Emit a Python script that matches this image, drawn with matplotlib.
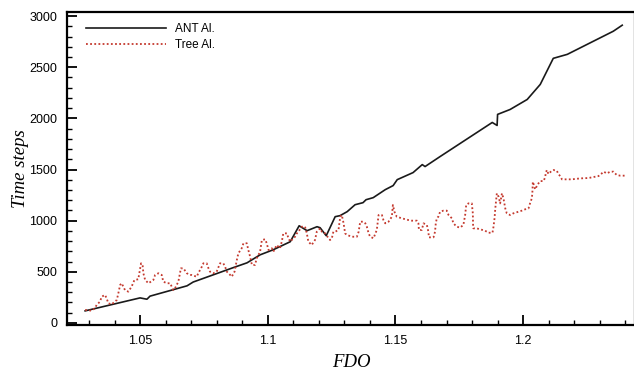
import matplotlib
matplotlib.use("Agg")
import matplotlib.pyplot as plt
from matplotlib.ticker import MultipleLocator

# ANT algorithm curve
ant_x = [1.0285, 1.0500, 1.0527, 1.0539, 1.0684, 1.0708, 1.0864, 1.0919, 1.0970,
         1.1021, 1.1088, 1.1123, 1.1154, 1.1193, 1.1205, 1.1229, 1.1264, 1.1283,
         1.1311, 1.1342, 1.1373, 1.1385, 1.1413, 1.1460, 1.1491, 1.1507, 1.1569,
         1.1605, 1.1616, 1.1675, 1.1879, 1.1898, 1.1900, 1.1949, 1.2016, 1.2067,
         1.2118, 1.2173, 1.2251, 1.2353, 1.2388]
ant_y = [118, 245, 232, 262, 363, 400, 540, 588, 666,
         715, 794, 950, 902, 941, 931, 853, 1039, 1049,
         1088, 1156, 1176, 1205, 1225, 1303, 1343, 1401, 1470,
         1548, 1529, 1627, 1960, 1931, 2039, 2087, 2185, 2332,
         2587, 2626, 2724, 2852, 2911]

# Tree algorithm curve
tree_x = [1.0285, 1.0311, 1.0324, 1.0330, 1.0343, 1.0350, 1.0363, 1.0369, 1.0376,
          1.0389, 1.0409, 1.0415, 1.0422, 1.0428, 1.0441, 1.0454, 1.0467, 1.0478,
          1.0493, 1.0504, 1.0510, 1.0513, 1.0520, 1.0533, 1.0552, 1.0559, 1.0572,
          1.0585, 1.0591, 1.0605, 1.0618, 1.0630, 1.0637, 1.0650, 1.0660, 1.0670,
          1.0683, 1.0696, 1.0702, 1.0722, 1.0728, 1.0742, 1.0748, 1.0761, 1.0768,
          1.0774, 1.0787, 1.0800, 1.0813, 1.0826, 1.0833, 1.0840, 1.0853, 1.0859,
          1.0870, 1.0879, 1.0885, 1.0898, 1.0905, 1.0918, 1.0924, 1.0931, 1.0938,
          1.0950, 1.0957, 1.0970, 1.0977, 1.0990, 1.0996, 1.1003, 1.1016, 1.1022,
          1.1035, 1.1048, 1.1055, 1.1061, 1.1075, 1.1081, 1.1088, 1.1094, 1.1107,
          1.1114, 1.1120, 1.1133, 1.1146, 1.1153, 1.1159, 1.1172, 1.1185, 1.1192,
          1.1205, 1.1212, 1.1225, 1.1238, 1.1244, 1.1251, 1.1257, 1.1264, 1.1277,
          1.1284, 1.1290, 1.1297, 1.1303, 1.1310, 1.1330, 1.1349, 1.1356, 1.1362,
          1.1375, 1.1382, 1.1388, 1.1395, 1.1401, 1.1414, 1.1427, 1.1434, 1.1447,
          1.1453, 1.1460, 1.1473, 1.1486, 1.1490, 1.1496, 1.1505, 1.1525, 1.1551,
          1.1564, 1.1584, 1.1590, 1.1592, 1.1603, 1.1610, 1.1623, 1.1629, 1.1631,
          1.1649, 1.1655, 1.1658, 1.1662, 1.1668, 1.1675, 1.1688, 1.1701, 1.1708,
          1.1721, 1.1727, 1.1740, 1.1753, 1.1766, 1.1773, 1.1777, 1.1786, 1.1799,
          1.1803, 1.1804, 1.1805, 1.1818, 1.1832, 1.1851, 1.1864, 1.1880, 1.1884,
          1.1888, 1.1891, 1.1897, 1.1904, 1.1910, 1.1917, 1.1923, 1.1930, 1.1936,
          1.1949, 1.1962, 1.1982, 1.1995, 1.2008, 1.2021, 1.2027, 1.2034, 1.2036,
          1.2037, 1.2038, 1.2047, 1.2057, 1.2067, 1.2080, 1.2086, 1.2089, 1.2093,
          1.2099, 1.2112, 1.2119, 1.2132, 1.2138, 1.2145, 1.2152, 1.2165, 1.2191,
          1.2211, 1.2230, 1.2256, 1.2282, 1.2295, 1.2308, 1.2315, 1.2328, 1.2341,
          1.2354, 1.2360, 1.2367, 1.2380, 1.2400]
tree_y = [127, 120, 147, 176, 208, 257, 274, 241, 192,
          182, 225, 290, 371, 388, 322, 306, 355, 420,
          427, 583, 567, 486, 420, 388, 420, 469, 486,
          469, 404, 388, 388, 322, 339, 404, 534, 534,
          486, 469, 469, 452, 486, 550, 583, 583, 534,
          501, 486, 501, 583, 583, 550, 501, 469, 452,
          501, 616, 681, 730, 779, 779, 713, 648, 567,
          567, 632, 697, 811, 818, 779, 713, 730, 697,
          762, 730, 795, 876, 876, 828, 795, 811, 843,
          876, 892, 941, 941, 876, 795, 762, 811, 892,
          925, 892, 876, 828, 811, 828, 892, 892, 909,
          1039, 1055, 974, 876, 860, 843, 843, 892, 990,
          990, 974, 941, 876, 843, 828, 909, 1055, 1055,
          1006, 974, 990, 1039, 1153, 1088, 1039, 1023, 1006,
          1000, 1000, 974, 909, 909, 974, 958, 892, 837,
          837, 892, 974, 1023, 1039, 1088, 1098, 1098, 1055,
          1023, 974, 941, 932, 958, 1055, 1153, 1169, 1169,
          1072, 958, 925, 925, 915, 902, 882, 882, 941,
          1023, 1120, 1267, 1234, 1169, 1267, 1218, 1120, 1072,
          1055, 1072, 1088, 1098, 1111, 1120, 1169, 1218, 1267,
          1326, 1381, 1306, 1355, 1387, 1387, 1423, 1469, 1495,
          1456, 1488, 1495, 1488, 1456, 1436, 1404, 1404, 1404,
          1410, 1414, 1417, 1430, 1436, 1462, 1479, 1462, 1479,
          1479, 1462, 1446, 1440, 1440]

fig = plt.figure(figsize=(6.34, 3.72), dpi=100)
ax = fig.add_axes([67 / 634, 47 / 372, 568 / 634, 313 / 372])

ax.plot(ant_x, ant_y, color='#1a1a1a', lw=1.2, label='ANT Al.')
ax.plot(tree_x, tree_y, color='#c4392e', lw=1.3, linestyle=(0, (1, 1.3)),
        label='Tree Al.')

ax.set_xlim(1.0214, 1.2438)
ax.set_ylim(-20, 3040)
ax.xaxis.set_major_locator(MultipleLocator(0.05))
ax.xaxis.set_minor_locator(MultipleLocator(0.01))
ax.yaxis.set_major_locator(MultipleLocator(500))
ax.yaxis.set_minor_locator(MultipleLocator(100))
ax.set_xticks([1.05, 1.1, 1.15, 1.2])
ax.set_xticklabels(['1.05', '1.1', '1.15', '1.2'])

ax.tick_params(which='both', direction='in', top=False, right=False,
               labelsize=9, width=1.3, pad=7)
ax.tick_params(which='major', length=7)
ax.tick_params(which='minor', length=3.5, width=1)
for lbl in ax.get_xticklabels() + ax.get_yticklabels():
    lbl.set_family('Liberation Sans')
for sp in ax.spines.values():
    sp.set_linewidth(1.6)

ax.set_xlabel('FDO', family='Liberation Serif', style='italic', fontsize=13.5,
              labelpad=5)
ax.set_ylabel('Time steps', family='Liberation Serif', style='italic',
              fontsize=13.5, labelpad=0)

leg = ax.legend(loc='upper left', bbox_to_anchor=(0.014, 0.998), frameon=False,
                handlelength=6.8, handletextpad=0.8, labelspacing=0.3,
                prop={'family': 'Liberation Sans', 'size': 8.5})

fig.savefig('out.png', dpi=100)
